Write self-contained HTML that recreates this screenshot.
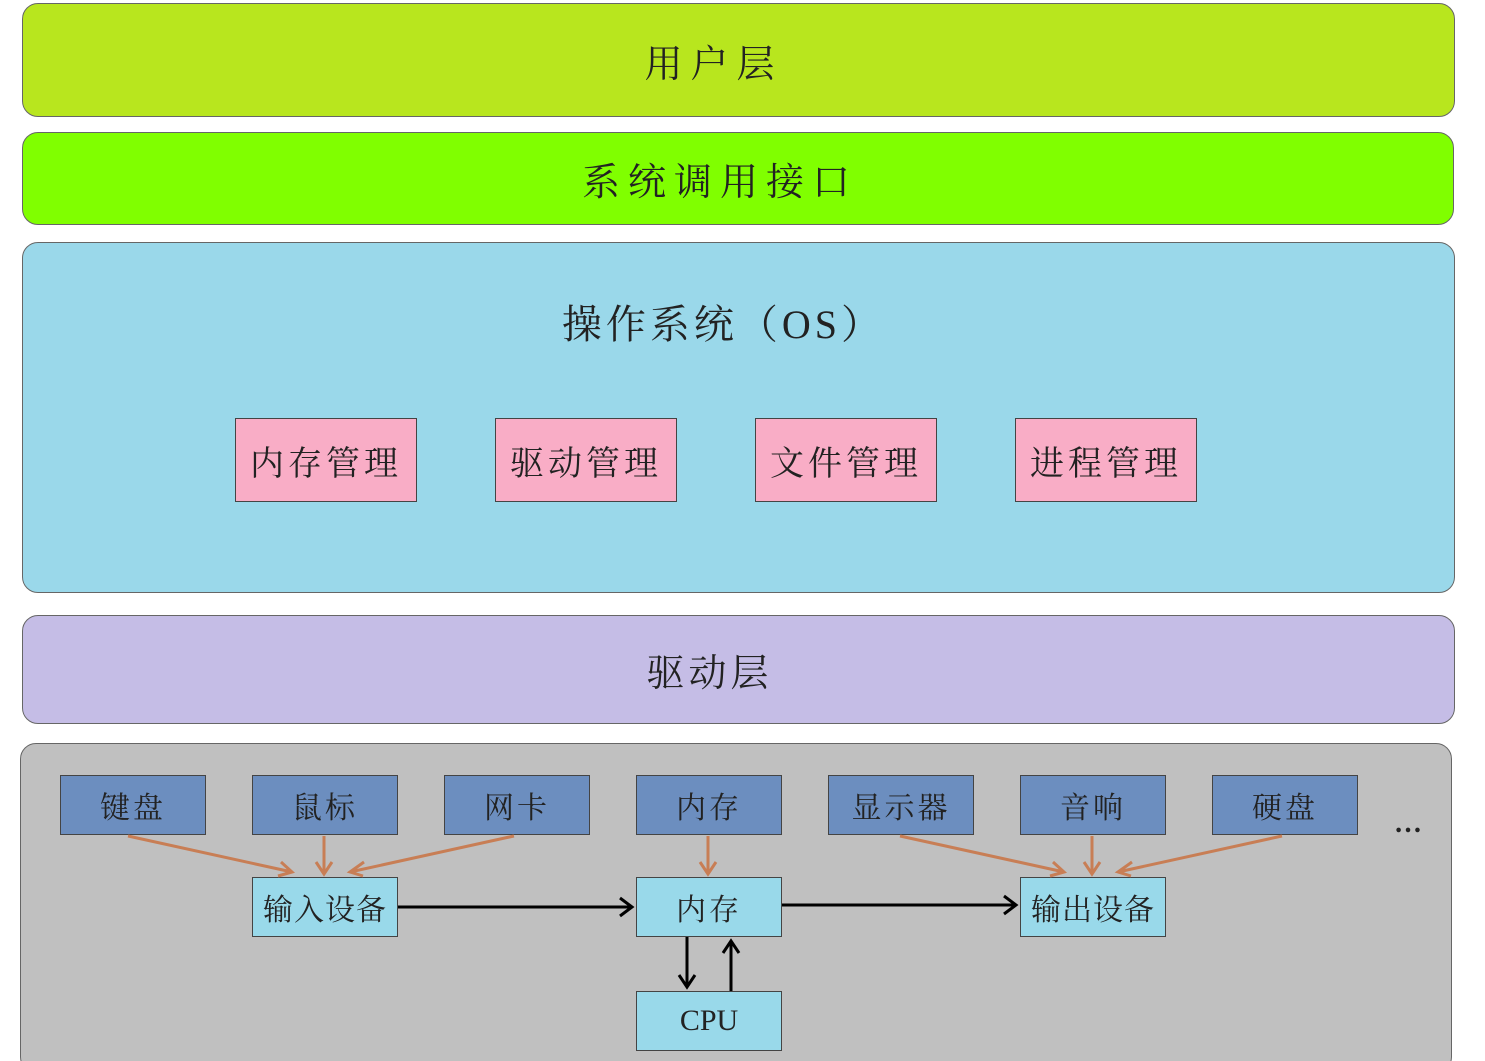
<!DOCTYPE html>
<html style="overflow:hidden;height:1061px"><head><meta charset="utf-8"><style>
body{margin:0;width:1485px;height:1061px;background:#fff;position:relative;overflow:hidden;font-family:"Liberation Serif","Noto Serif CJK SC",serif;color:#222}
.l{position:absolute;border:1.5px solid #666;border-radius:16px;box-sizing:border-box;display:flex;justify-content:center}
.b{position:absolute;box-sizing:border-box;border:1.5px solid #444;display:flex;align-items:center;justify-content:center}
.p{background:#f9adc6;font-size:34px;letter-spacing:4px}
.d{background:#6c8ebf;font-size:30px;letter-spacing:3px}
.c{background:#99d9ea;font-size:30px;letter-spacing:3px}
</style></head><body>
<div class="l" style="left:22px;top:3px;width:1433px;height:114px;background:#b8e61e;align-items:center;font-size:38px;letter-spacing:8px;padding-right:50px">用户层</div>
<div class="l" style="left:22px;top:132px;width:1432px;height:93px;background:#80ff00;align-items:center;font-size:38px;letter-spacing:8px;padding-right:36px">系统调用接口</div>
<div class="l" style="left:22px;top:242px;width:1433px;height:351px;background:#9ad8ea;font-size:40px;letter-spacing:4px;padding-top:50px;padding-right:30px">操作系统（OS）</div>
<div class="b p" style="left:235px;top:418px;width:182px;height:84px">内存管理</div>
<div class="b p" style="left:495px;top:418px;width:182px;height:84px">驱动管理</div>
<div class="b p" style="left:755px;top:418px;width:182px;height:84px">文件管理</div>
<div class="b p" style="left:1015px;top:418px;width:182px;height:84px">进程管理</div>
<div class="l" style="left:22px;top:615px;width:1433px;height:109px;background:#c5bde6;align-items:center;font-size:38px;letter-spacing:4px;padding-right:58px">驱动层</div>
<div class="l" style="left:20px;top:743px;width:1432px;height:330px;background:#c0c0c0"></div>
<div class="b d" style="left:60px;top:775px;width:146px;height:60px">键盘</div>
<div class="b d" style="left:252px;top:775px;width:146px;height:60px">鼠标</div>
<div class="b d" style="left:444px;top:775px;width:146px;height:60px">网卡</div>
<div class="b d" style="left:636px;top:775px;width:146px;height:60px">内存</div>
<div class="b d" style="left:828px;top:775px;width:146px;height:60px">显示器</div>
<div class="b d" style="left:1020px;top:775px;width:146px;height:60px">音响</div>
<div class="b d" style="left:1212px;top:775px;width:146px;height:60px">硬盘</div>
<div style="position:absolute;left:1394px;top:808px;font-size:28px;font-weight:bold">…</div>
<div class="b c" style="left:252px;top:877px;width:146px;height:60px;letter-spacing:1px">输入设备</div>
<div class="b c" style="left:636px;top:877px;width:146px;height:60px">内存</div>
<div class="b c" style="left:1020px;top:877px;width:146px;height:60px;letter-spacing:1px">输出设备</div>
<div class="b c" style="left:636px;top:991px;width:146px;height:60px;letter-spacing:0">CPU</div>
<svg width="1485" height="1061" style="position:absolute;left:0;top:0">
<g stroke="#c87e55" stroke-width="3" fill="none">
<path d="M128 836L292 872M281 862L292 872L278 876"/>
<path d="M324 836V874M316 862L324 874L332 862"/>
<path d="M514 836L350 872M364 862L350 872L363 876"/>
<path d="M708 836V874M700 862L708 874L716 862"/>
<path d="M900 836L1064 872M1053 862L1064 872L1050 876"/>
<path d="M1092 836V874M1084 862L1092 874L1100 862"/>
<path d="M1282 836L1118 872M1132 862L1118 872L1131 876"/>
</g>
<g stroke="#000" stroke-width="3" fill="none">
<path d="M398 907H632M620 898L632 907L620 916"/>
<path d="M782 905H1016M1004 896L1016 905L1004 914"/>
<path d="M687 937V987M679 975L687 987L695 975"/>
<path d="M731 991V941M723 953L731 941L739 953"/>
</g>
</svg>
</body></html>
